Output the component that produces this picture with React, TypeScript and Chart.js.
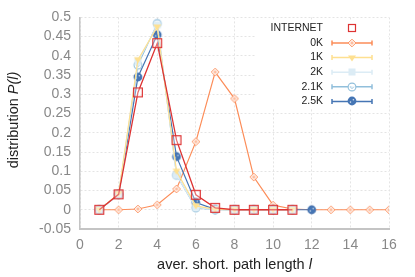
import React, { useEffect, useRef } from "react";
import { Chart, registerables } from "chart.js";
Chart.register(...registerables);

const seriesNames = ["INTERNET", "0K", "1K", "2K", "2.1K", "2.5K"];
const seriesColors = ["#dd3333", "#fc8d59", "#fee090", "#dcecf5", "#91bfdb", "#4575b4"];
const markerKinds = ["square", "diamond", "triangle", "fsquare", "ocircle", "fcircle"];

const xInternet = [1, 2, 3, 4, 5, 6, 7, 8, 9, 10, 11];
const yInternet = [0, 0.04, 0.305, 0.433, 0.181, 0.039, 0.005, 0, 0, 0, 0];

const x0K = [1, 2, 3, 4, 5, 6, 7, 8, 9, 10, 11, 12, 13, 14, 15, 16];
const y0K = [0, 0, 0.002, 0.013, 0.054, 0.177, 0.358, 0.289, 0.085, 0.012, 0.002, 0, 0, 0, 0, 0];

const x1K = [1, 2, 3, 4, 5, 6, 7, 8, 9, 10, 11];
const y1K = [0, 0.042, 0.39, 0.475, 0.1, 0.01, 0.001, 0, 0, 0, 0];

const x2K = [1, 2, 3, 4, 5, 6, 7, 8, 9, 10, 11];
const y2K = [0, 0.04, 0.385, 0.48, 0.09, 0.006, 0, 0, 0, 0, 0];

const x21K = [1, 2, 3, 4, 5, 6, 7, 8, 9, 10, 11];
const y21K = [0, 0.04, 0.376, 0.484, 0.09, 0.005, 0, 0, 0, 0, 0];

const x25K = [1, 2, 3, 4, 5, 6, 7, 8, 9, 10, 11, 12];
const y25K = [0, 0.04, 0.345, 0.455, 0.138, 0.019, 0.001, 0, 0, 0, 0, 0];

const xTicks = [0, 2, 4, 6, 8, 10, 12, 14, 16];
const yTicks = [-0.05, 0, 0.05, 0.1, 0.15, 0.2, 0.25, 0.3, 0.35, 0.4, 0.45, 0.5];

const allX = [xInternet, x0K, x1K, x2K, x21K, x25K];
const allY = [yInternet, y0K, y1K, y2K, y21K, y25K];

function makeMarker(kind: string, color: string, small = false): HTMLCanvasElement {
  const s = 12;
  const c = document.createElement("canvas");
  c.width = s;
  c.height = s;
  const g = c.getContext("2d")!;
  const m = s / 2;
  g.lineWidth = 1.2;
  switch (kind) {
    case "square": {
      const h = small ? 3.5 : 4.4;
      g.fillStyle = "rgba(255,255,255,0.3)";
      g.fillRect(m - h, m - h, 2 * h, 2 * h);
      g.strokeStyle = color;
      g.strokeRect(m - h, m - h, 2 * h, 2 * h);
      break;
    }
    case "diamond": {
      const r = 3.8;
      g.strokeStyle = color;
      g.lineWidth = 1;
      g.fillStyle = "#ffffff";
      g.beginPath();
      g.moveTo(m, m - r);
      g.lineTo(m + r, m);
      g.lineTo(m, m + r);
      g.lineTo(m - r, m);
      g.closePath();
      g.fill();
      g.stroke();
      g.lineWidth = 0.7;
      g.beginPath();
      g.moveTo(m - 1.8, m);
      g.lineTo(m + 1.8, m);
      g.moveTo(m, m - 1.8);
      g.lineTo(m, m + 1.8);
      g.stroke();
      break;
    }
    case "triangle": {
      g.fillStyle = color;
      g.beginPath();
      g.moveTo(m - 4, m - 2.5);
      g.lineTo(m + 4, m - 2.5);
      g.lineTo(m, m + 3.5);
      g.closePath();
      g.fill();
      break;
    }
    case "fsquare": {
      g.fillStyle = color;
      g.fillRect(m - 3.5, m - 3.5, 7, 7);
      break;
    }
    case "ocircle": {
      g.strokeStyle = color;
      g.lineWidth = 1.1;
      g.fillStyle = "rgba(255,255,255,0.85)";
      g.beginPath();
      g.arc(m, m, 3.9, 0, Math.PI * 2);
      g.fill();
      g.stroke();
      g.lineWidth = 0.7;
      g.beginPath();
      g.arc(m, m, 1.4, 0, Math.PI * 1.2);
      g.stroke();
      break;
    }
    case "fcircle": {
      g.fillStyle = color;
      g.beginPath();
      g.arc(m, m, 4.4, 0, Math.PI * 2);
      g.fill();
      g.fillStyle = "rgba(255,255,255,0.75)";
      g.beginPath();
      g.arc(m - 1.5, m + 1.1, 0.8, 0, Math.PI * 2);
      g.arc(m + 1.4, m - 1.3, 0.8, 0, Math.PI * 2);
      g.fill();
      break;
    }
  }
  return c;
}

const FONT = "'Liberation Sans', Arial, Helvetica, sans-serif";

function drawParts(ctx: CanvasRenderingContext2D, parts: [string, boolean][], size: number) {
  let total = 0;
  for (const [t, it] of parts) {
    ctx.font = `${it ? "italic " : ""}${size}px ${FONT}`;
    total += ctx.measureText(t).width;
  }
  let x = -total / 2;
  for (const [t, it] of parts) {
    ctx.font = `${it ? "italic " : ""}${size}px ${FONT}`;
    ctx.fillText(t, x, 0);
    x += ctx.measureText(t).width;
  }
}

export default function App() {
  const ref = useRef<HTMLCanvasElement>(null);
  useEffect(() => {
    const plotMarkers = markerKinds.map((k, i) => makeMarker(k, seriesColors[i]));
    const legendMarkers = markerKinds.map((k, i) => makeMarker(k, seriesColors[i], true));
    const order = [0, 5, 1, 2, 3, 4];
    const datasets = seriesNames.map((name, i) => ({
      label: name,
      data: allX[i].map((x, j) => ({ x, y: allY[i][j] })),
      borderColor: seriesColors[i],
      backgroundColor: seriesColors[i],
      borderWidth: i === 0 ? 1.3 : 1.2,
      pointStyle: plotMarkers[i],
      pointRadius: 5,
      pointHoverRadius: 5,
      tension: 0,
      order: order[i],
    }));

    const overlay = {
      id: "overlay",
      afterDraw(chart: any) {
        const ctx: CanvasRenderingContext2D = chart.ctx;
        const a = chart.chartArea;
        ctx.save();
        ctx.fillStyle = "#222";
        ctx.textBaseline = "middle";
        ctx.save();
        ctx.translate((a.left + a.right) / 2, 265);
        drawParts(ctx, [["aver. short. path length ", false], ["l", true]], 14.5);
        ctx.restore();
        ctx.save();
        ctx.translate(14, 120);
        ctx.rotate(-Math.PI / 2);
        drawParts(ctx, [["distribution ", false], ["P(l)", true]], 14.5);
        ctx.restore();

        ctx.fillStyle = "#ffffff";
        ctx.fillRect(a.left + 176, a.top + 3, a.right - a.left - 178, 88);
        const textX = a.right - 66;
        const lx0 = a.right - 57;
        const lx1 = a.right - 17;
        const mx = a.right - 37;
        seriesNames.forEach((name, i) => {
          const y = a.top + 11 + i * 14.6;
          ctx.fillStyle = "#222";
          ctx.font = `10.5px ${FONT}`;
          ctx.textAlign = "right";
          ctx.fillText(name, textX, y);
          if (i > 0) {
            ctx.strokeStyle = seriesColors[i];
            ctx.lineWidth = 1.5;
            ctx.beginPath();
            ctx.moveTo(lx0, y);
            ctx.lineTo(lx1, y);
            ctx.moveTo(lx0, y - 2.5);
            ctx.lineTo(lx0, y + 2.5);
            ctx.moveTo(lx1, y - 2.5);
            ctx.lineTo(lx1, y + 2.5);
            ctx.stroke();
          }
          const mk = legendMarkers[i];
          ctx.drawImage(mk, Math.round(mx - mk.width / 2), Math.round(y - mk.height / 2));
        });
        ctx.restore();
      },
    };

    const chart = new Chart(ref.current!, {
      type: "line",
      data: { datasets },
      options: {
        animation: false,
        responsive: true,
        maintainAspectRatio: false,
        layout: { padding: { top: 17, right: 26, left: 0, bottom: 0 } },
        plugins: { legend: { display: false }, tooltip: { enabled: false } },
        scales: {
          x: {
            type: "linear",
            min: 0,
            max: 16,
            afterBuildTicks: (s: any) => {
              s.ticks = xTicks.map((v) => ({ value: v }));
            },
            afterFit: (s: any) => {
              s.height = 48;
            },
            ticks: { color: "#888", font: { size: 14, family: FONT }, padding: 8, maxRotation: 0, autoSkip: false },
            grid: { color: "#e4e4e4", drawTicks: false, lineWidth: 1 },
            border: { color: "#c4c4c4", width: 2, dash: [2, 2] },
          },
          y: {
            type: "linear",
            min: yTicks[0],
            max: yTicks[yTicks.length - 1],
            afterBuildTicks: (s: any) => {
              s.ticks = yTicks.map((v) => ({ value: v }));
            },
            afterFit: (s: any) => {
              s.width = 80;
            },
            ticks: {
              color: "#888",
              font: { size: 14, family: FONT },
              padding: 9,
              autoSkip: false,
              callback: (v: any) => String(Math.round(Number(v) * 100) / 100),
            },
            grid: { color: "#e4e4e4", drawTicks: false, lineWidth: 1 },
            border: { color: "#c4c4c4", width: 1.5, dash: [2, 2] },
          },
        },
      },
      plugins: [overlay],
    } as any);
    return () => chart.destroy();
  }, []);
  return (
    <div style={{ position: "fixed", left: 0, top: 0, width: 415, height: 277, background: "#fff" }}>
      <canvas ref={ref} />
    </div>
  );
}
